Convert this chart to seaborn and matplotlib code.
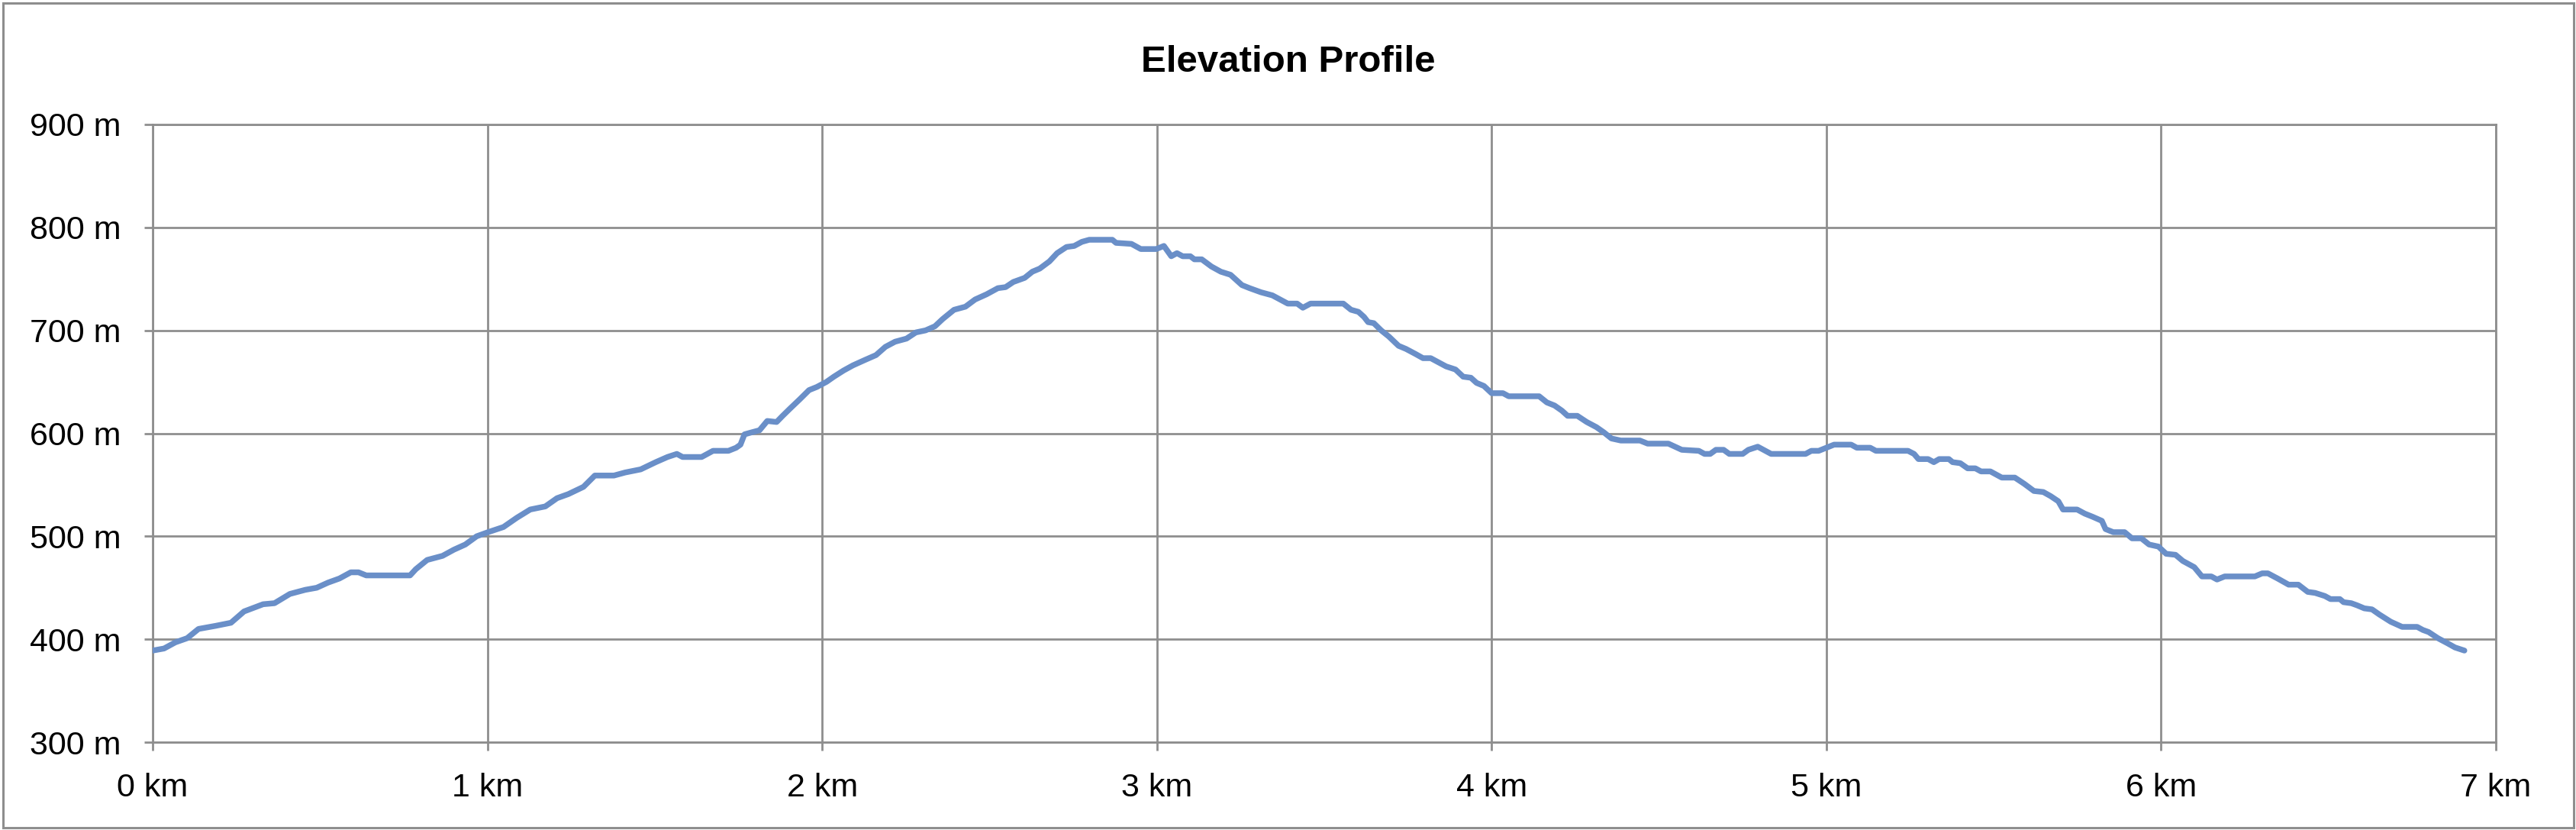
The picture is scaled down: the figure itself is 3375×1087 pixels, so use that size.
import numpy as np
import pandas as pd
import matplotlib
matplotlib.use("Agg")
import matplotlib.pyplot as plt
import seaborn as sns
from matplotlib.patches import Rectangle

# ---------------- data ----------------
distance_km = [
    0.000, 0.034, 0.068, 0.103, 0.137, 0.188, 0.234, 0.273, 0.330, 0.364,
    0.410, 0.456, 0.490, 0.524, 0.558, 0.592, 0.615, 0.638, 0.769, 0.786,
    0.820, 0.866, 0.900, 0.934, 0.968, 1.002, 1.048, 1.088, 1.128, 1.173,
    1.208, 1.242, 1.287, 1.321, 1.378, 1.412, 1.458, 1.503, 1.538, 1.566,
    1.583, 1.640, 1.674, 1.720, 1.743, 1.756, 1.768, 1.790, 1.813, 1.836,
    1.864, 1.882, 1.904, 1.933, 1.961, 1.984, 2.013, 2.035, 2.064, 2.092,
    2.126, 2.161, 2.189, 2.218, 2.252, 2.280, 2.309, 2.337, 2.360, 2.394,
    2.428, 2.457, 2.491, 2.525, 2.548, 2.571, 2.605, 2.628, 2.650, 2.679,
    2.702, 2.730, 2.753, 2.776, 2.798, 2.867, 2.878, 2.924, 2.952, 2.998,
    3.021, 3.043, 3.060, 3.077, 3.100, 3.112, 3.134, 3.163, 3.191, 3.220,
    3.254, 3.277, 3.311, 3.345, 3.368, 3.391, 3.419, 3.436, 3.459, 3.557,
    3.580, 3.602, 3.619, 3.631, 3.648, 3.670, 3.693, 3.722, 3.744, 3.773,
    3.795, 3.818, 3.841, 3.864, 3.892, 3.915, 3.938, 3.955, 3.977, 4.000,
    4.034, 4.051, 4.142, 4.165, 4.188, 4.210, 4.227, 4.256, 4.284, 4.313,
    4.335, 4.358, 4.386, 4.443, 4.466, 4.528, 4.568, 4.619, 4.636, 4.653,
    4.670, 4.693, 4.710, 4.750, 4.767, 4.795, 4.835, 4.938, 4.955, 4.977,
    5.000, 5.023, 5.074, 5.091, 5.131, 5.148, 5.244, 5.262, 5.275, 5.304,
    5.321, 5.337, 5.366, 5.377, 5.400, 5.422, 5.445, 5.462, 5.490, 5.524,
    5.563, 5.591, 5.620, 5.648, 5.670, 5.693, 5.707, 5.749, 5.772, 5.795,
    5.823, 5.834, 5.857, 5.891, 5.913, 5.941, 5.964, 5.992, 6.015, 6.043,
    6.065, 6.099, 6.122, 6.150, 6.167, 6.190, 6.280, 6.302, 6.319, 6.348,
    6.381, 6.410, 6.438, 6.460, 6.489, 6.506, 6.534, 6.545, 6.568, 6.585,
    6.607, 6.630, 6.652, 6.686, 6.720, 6.765, 6.782, 6.799, 6.827, 6.856,
    6.878, 6.906,
]
elevation_m = [
    389, 391, 397, 401, 410, 413, 416, 427, 434, 435,
    444, 448, 450, 455, 459, 465, 465, 462, 462, 468,
    477, 481, 487, 492, 500, 504, 509, 518, 526, 529,
    537, 541, 548, 559, 559, 562, 565, 572, 577, 580,
    577, 577, 583, 583, 586, 589, 599, 601, 603, 612,
    611, 617, 624, 633, 642, 645, 650, 655, 661, 666,
    671, 676, 684, 689, 692, 698, 700, 704, 711, 720,
    723, 730, 735, 741, 742, 747, 751, 757, 760, 767,
    775, 781, 782, 786, 788, 788, 785, 784, 779, 779,
    782, 772, 775, 772, 772, 769, 769, 762, 757, 754,
    744, 741, 737, 734, 730, 726, 726, 722, 726, 726,
    720, 718, 713, 708, 707, 700, 694, 685, 682, 677,
    673, 673, 669, 665, 662, 655, 654, 649, 646, 639,
    639, 636, 636, 630, 627, 622, 617, 617, 611, 606,
    601, 595, 593, 593, 590, 590, 584, 583, 580, 580,
    584, 584, 580, 580, 584, 587, 580, 580, 583, 583,
    586, 589, 589, 586, 586, 583, 583, 580, 575, 575,
    572, 575, 575, 572, 571, 566, 566, 563, 563, 557,
    557, 551, 544, 543, 539, 534, 526, 526, 522, 519,
    515, 507, 504, 504, 498, 498, 492, 490, 483, 482,
    476, 470, 461, 461, 458, 461, 461, 464, 464, 459,
    453, 453, 446, 445, 442, 439, 439, 436, 435, 433,
    430, 429, 424, 417, 412, 412, 409, 407, 401, 396,
    392, 389,
]

x_ticks_km = [0, 1, 2, 3, 4, 5, 6, 7]
x_tick_labels = ["0 km", "1 km", "2 km", "3 km", "4 km", "5 km", "6 km", "7 km"]
y_ticks_m = [300, 400, 500, 600, 700, 800, 900]
y_tick_labels = ["300 m", "400 m", "500 m", "600 m", "700 m", "800 m", "900 m"]
chart_title = "Elevation Profile"

# ---------------- styling ----------------
line_color = "#6a8fc8"
grid_color = "#8e8e8e"

sns.set_theme(style="white")
plt.rcParams["font.family"] = ["Liberation Sans", "DejaVu Sans"]

W, H = 3375, 1087
fig = plt.figure(figsize=(W / 100, H / 100), dpi=100)
fig.patch.set_facecolor("white")

ax = fig.add_axes([200 / W, 1 - 972 / H, (3270 - 200) / W, (972 - 163) / H])
ax.set_facecolor("white")

df = pd.DataFrame({"distance": distance_km, "elevation": elevation_m})
sns.lineplot(data=df, x="distance", y="elevation", ax=ax, color=line_color,
             linewidth=5.4, estimator=None, sort=False,
             solid_joinstyle="round", solid_capstyle="round", zorder=3)

ax.set_xlim(0, 7)
ax.set_ylim(300, 900)
ax.set_xticks(x_ticks_km)
ax.set_xticklabels(x_tick_labels)
ax.set_yticks(y_ticks_m)
ax.set_yticklabels(y_tick_labels)
ax.set_xlabel("")
ax.set_ylabel("")

ax.grid(True, color=grid_color, linewidth=2.0)
ax.set_axisbelow(True)
for s in ax.spines.values():
    s.set_visible(True)
    s.set_color(grid_color)
    s.set_linewidth(2.0)

ax.tick_params(axis="both", which="major", direction="out", length=8,
               width=2.0, color=grid_color, labelsize=31, labelcolor="black",
               bottom=True, left=True, top=False, right=False)
ax.tick_params(axis="x", pad=21)
ax.tick_params(axis="y", pad=22)

fig.text(0.5, 1 - 94 / H, chart_title, ha="center", va="baseline",
         fontsize=35.5, fontweight="bold", color="black")

fig.add_artist(Rectangle((3.5 / W, 3.5 / H), 1 - 7 / W, 1 - 7 / H,
                         transform=fig.transFigure, fill=False,
                         edgecolor=grid_color, linewidth=2.2))

fig.savefig("out.png", dpi=100, facecolor="white")
